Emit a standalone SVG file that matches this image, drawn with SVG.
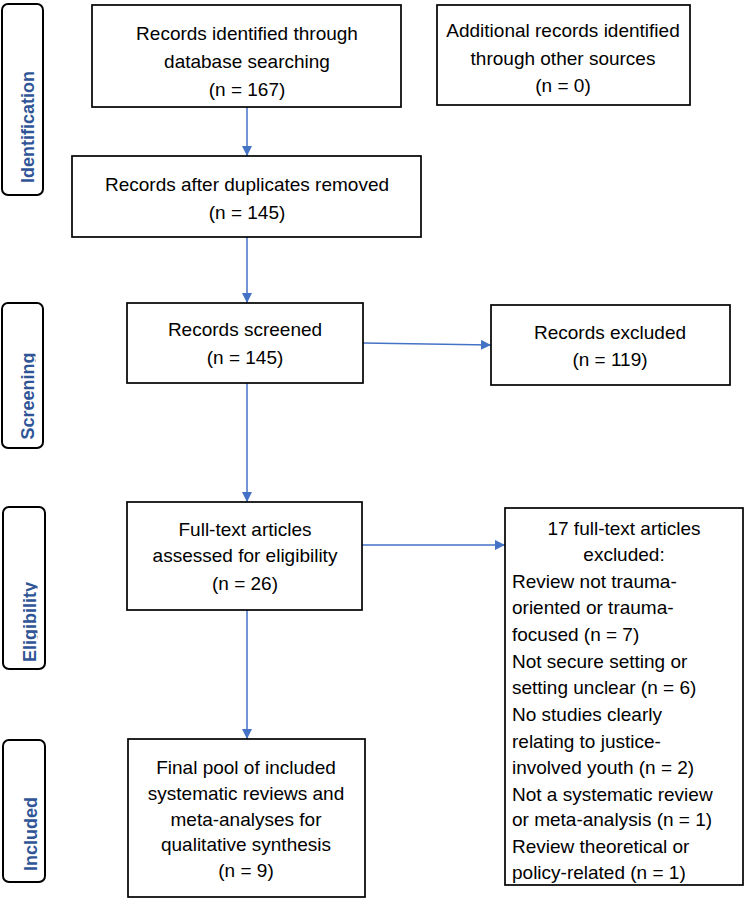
<svg xmlns="http://www.w3.org/2000/svg" width="750" height="915" viewBox="0 0 750 915">
<style>
.box{fill:#fff;stroke:#000;stroke-width:1.7}
.side{fill:#fff;stroke:#000;stroke-width:2}
.t{font-family:"Liberation Sans",Arial,sans-serif;font-size:19px;fill:#000}
.c{text-anchor:middle}
.lab{font-family:"Liberation Sans",Arial,sans-serif;font-size:18px;font-weight:bold;fill:#2F5597;text-anchor:middle}
.conn{stroke:#4472C4;stroke-width:1.5;fill:none;marker-end:url(#ah)}
</style>
<defs>
<marker id="ah" viewBox="0 0 10 10" refX="10" refY="5" markerWidth="10" markerHeight="10" markerUnits="userSpaceOnUse" orient="auto">
<path d="M0,0 L10,5 L0,10 Z" fill="#4472C4"/>
</marker>
<clipPath id="c1"><rect x="0" y="0" width="35.5" height="915"/></clipPath>
<clipPath id="c2"><rect x="0" y="0" width="37.5" height="915"/></clipPath>
<clipPath id="c3"><rect x="0" y="0" width="38.5" height="915"/></clipPath>
</defs>
<rect width="750" height="915" fill="#fff"/>

<g id="stage-identification">
<rect class="side" x="2" y="4" width="41" height="191" rx="6"/>
<g clip-path="url(#c1)"><text class="lab" transform="translate(34,127) rotate(-90)">Identification</text></g>
</g>
<g id="stage-screening">
<rect class="side" x="2" y="303" width="41" height="145" rx="6"/>
<g clip-path="url(#c1)"><text class="lab" transform="translate(34,396) rotate(-90)">Screening</text></g>
</g>
<g id="stage-eligibility">
<rect class="side" x="3" y="507" width="42" height="162" rx="6"/>
<g clip-path="url(#c2)"><text class="lab" transform="translate(36,622) rotate(-90)">Eligibility</text></g>
</g>
<g id="stage-included">
<rect class="side" x="3" y="740" width="42" height="142" rx="6"/>
<g clip-path="url(#c3)"><text class="lab" transform="translate(37,834) rotate(-90)">Included</text></g>
</g>

<g id="connectors">
<path class="conn" d="M247,107 L247,156"/>
<path class="conn" d="M247,237 L247,303"/>
<path class="conn" d="M363,343 L491,345"/>
<path class="conn" d="M247,383 L247,502"/>
<path class="conn" d="M362,545 L505,545"/>
<path class="conn" d="M247,610 L247,739"/>
</g>

<g id="db-records">
<rect class="box" x="92" y="5" width="309" height="102"/>
<text class="t c" x="247" y="40">Records identified through</text>
<text class="t c" x="247" y="68">database searching</text>
<text class="t c" x="247" y="96">(n = 167)</text>
</g>
<g id="other-records">
<rect class="box" x="437" y="5" width="253" height="100"/>
<text class="t c" x="563" y="37">Additional records identified</text>
<text class="t c" x="563" y="65">through other sources</text>
<text class="t c" x="563" y="92">(n = 0)</text>
</g>
<g id="dedup">
<rect class="box" x="72" y="156" width="349" height="81"/>
<text class="t c" x="247" y="191">Records after duplicates removed</text>
<text class="t c" x="247" y="219">(n = 145)</text>
</g>
<g id="screened">
<rect class="box" x="127" y="303" width="236" height="80"/>
<text class="t c" x="245" y="336">Records screened</text>
<text class="t c" x="245" y="364">(n = 145)</text>
</g>
<g id="excluded">
<rect class="box" x="491" y="305" width="239" height="80"/>
<text class="t c" x="610" y="339">Records excluded</text>
<text class="t c" x="610" y="366">(n = 119)</text>
</g>
<g id="fulltext">
<rect class="box" x="127" y="502" width="235" height="108"/>
<text class="t c" x="245" y="536">Full-text articles</text>
<text class="t c" x="245" y="562">assessed for eligibility</text>
<text class="t c" x="245" y="590">(n = 26)</text>
</g>
<g id="fulltext-excluded">
<rect class="box" x="505" y="508" width="238" height="377"/>
<text class="t c" x="624" y="535">17 full-text articles</text>
<text class="t c" x="624" y="561">excluded:</text>
<text class="t" x="512" y="588">Review not trauma-</text>
<text class="t" x="512" y="614">oriented or trauma-</text>
<text class="t" x="512" y="641">focused (n = 7)</text>
<text class="t" x="512" y="668">Not secure setting or</text>
<text class="t" x="512" y="694">setting unclear (n = 6)</text>
<text class="t" x="512" y="721">No studies clearly</text>
<text class="t" x="512" y="748">relating to justice-</text>
<text class="t" x="512" y="774">involved youth (n = 2)</text>
<text class="t" x="512" y="801">Not a systematic review</text>
<text class="t" x="512" y="826">or meta-analysis (n = 1)</text>
<text class="t" x="512" y="853">Review theoretical or</text>
<text class="t" x="512" y="879">policy-related (n = 1)</text>
</g>
<g id="final-pool">
<rect class="box" x="128" y="739" width="237" height="158"/>
<text class="t c" x="246" y="774">Final pool of included</text>
<text class="t c" x="246" y="800">systematic reviews and</text>
<text class="t c" x="246" y="826">meta-analyses for</text>
<text class="t c" x="246" y="851">qualitative synthesis</text>
<text class="t c" x="246" y="877">(n = 9)</text>
</g>
</svg>
